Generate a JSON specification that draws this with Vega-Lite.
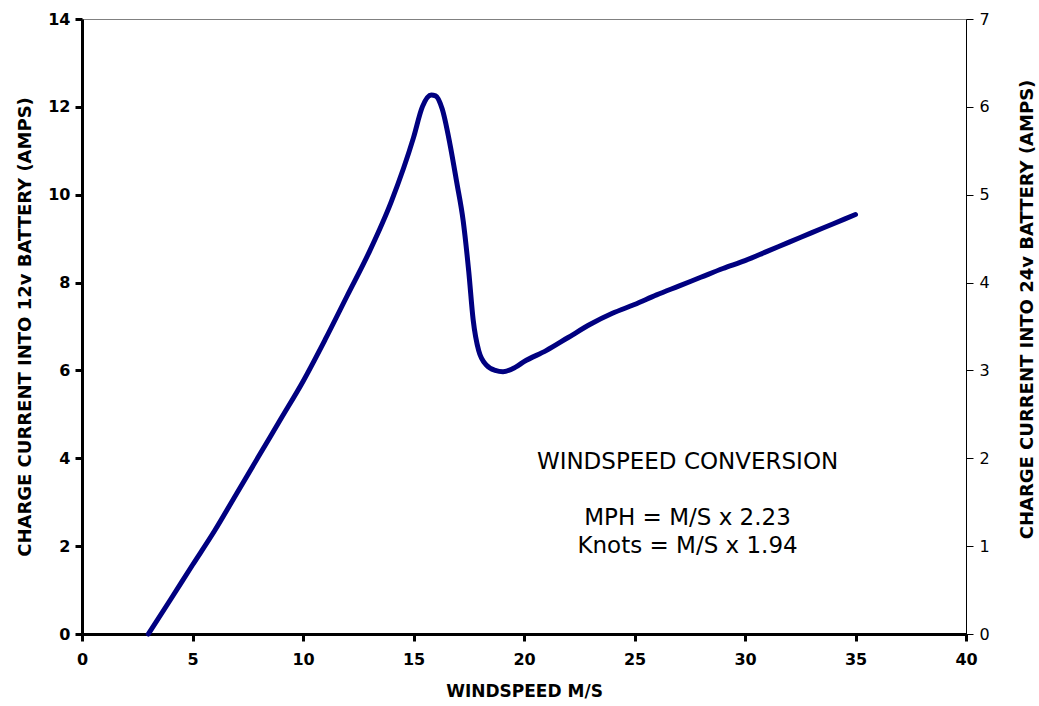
{
  "$schema": "https://vega.github.io/schema/vega-lite/v6.json",
  "width": 884,
  "height": 615,
  "autosize": {"type": "none"},
  "padding": {"left": 82, "top": 19, "right": 73, "bottom": 72},
  "background": "white",
  "config": {
    "view": {"stroke": "#808080", "strokeWidth": 1},
    "font": "DejaVu Sans"
  },
  "datasets": {
    "curve": [
      {"ms": 3, "amps": 0}, {"ms": 4, "amps": 0.78}, {"ms": 5, "amps": 1.57},
      {"ms": 6, "amps": 2.35}, {"ms": 7, "amps": 3.2}, {"ms": 8, "amps": 4.05},
      {"ms": 9, "amps": 4.9}, {"ms": 10, "amps": 5.75}, {"ms": 11, "amps": 6.7},
      {"ms": 12, "amps": 7.7}, {"ms": 13, "amps": 8.7}, {"ms": 14, "amps": 9.85},
      {"ms": 15, "amps": 11.3}, {"ms": 15.4, "amps": 12.0}, {"ms": 15.8, "amps": 12.27},
      {"ms": 16.0, "amps": 12.25}, {"ms": 16.3, "amps": 11.95}, {"ms": 16.65, "amps": 11.15},
      {"ms": 16.95, "amps": 10.3}, {"ms": 17.25, "amps": 9.4}, {"ms": 17.5, "amps": 8.25},
      {"ms": 17.7, "amps": 7.15}, {"ms": 17.95, "amps": 6.45}, {"ms": 18.3, "amps": 6.12},
      {"ms": 18.7, "amps": 6.0}, {"ms": 19.05, "amps": 5.97}, {"ms": 19.6, "amps": 6.07},
      {"ms": 20, "amps": 6.2}, {"ms": 21, "amps": 6.45}, {"ms": 22, "amps": 6.75},
      {"ms": 23, "amps": 7.05}, {"ms": 24, "amps": 7.3}, {"ms": 25, "amps": 7.5},
      {"ms": 26, "amps": 7.72}, {"ms": 27, "amps": 7.92}, {"ms": 28, "amps": 8.12},
      {"ms": 29, "amps": 8.32}, {"ms": 30, "amps": 8.5}, {"ms": 31, "amps": 8.71},
      {"ms": 32, "amps": 8.92}, {"ms": 33, "amps": 9.13}, {"ms": 34, "amps": 9.34},
      {"ms": 35, "amps": 9.55}
    ],
    "notes": [
      {"ms": 27.4, "amps": 3.92, "text": "WINDSPEED CONVERSION"},
      {"ms": 27.4, "amps": 2.64, "text": "MPH = M/S x 2.23"},
      {"ms": 27.4, "amps": 2.0, "text": "Knots = M/S x 1.94"}
    ],
    "right": [
      {"ms": 0, "amps24": 0}, {"ms": 0, "amps24": 7}
    ]
  },
  "layer": [
    {
      "layer": [
        {
          "data": {"name": "curve"},
          "mark": {"type": "line", "color": "#000080", "strokeWidth": 5, "interpolate": "monotone", "strokeCap": "round", "strokeJoin": "round"},
          "encoding": {
            "x": {
              "field": "ms", "type": "quantitative",
              "scale": {"domain": [0, 40], "nice": false},
              "axis": {
                "title": "WINDSPEED M/S", "values": [0,5,10,15,20,25,30,35,40],
                "grid": false, "domainColor": "black", "domainWidth": 3,
                "tickColor": "black", "tickWidth": 3, "tickSize": 7, "labelFlush": false,
                "labelFont": "DejaVu Sans", "labelFontWeight": "bold", "labelFontSize": 16, "labelColor": "black", "labelPadding": 10,
                "titleFont": "DejaVu Sans", "titleFontWeight": "bold", "titleFontSize": 17, "titleColor": "black", "titlePadding": 16
              }
            },
            "y": {
              "field": "amps", "type": "quantitative",
              "scale": {"domain": [0, 14], "nice": false},
              "axis": {
                "title": "CHARGE CURRENT INTO 12v BATTERY (AMPS)", "values": [0,2,4,6,8,10,12,14],
                "grid": false, "domainColor": "black", "domainWidth": 3,
                "tickColor": "black", "tickWidth": 3, "tickSize": 7, "labelFlush": false,
                "labelFont": "DejaVu Sans", "labelFontWeight": "bold", "labelFontSize": 16, "labelColor": "black", "labelPadding": 5,
                "titleFont": "DejaVu Sans", "titleFontWeight": "bold", "titleFontSize": 18, "titleColor": "black", "titlePadding": 13
              }
            }
          }
        },
        {
          "data": {"name": "notes"},
          "mark": {"type": "text", "font": "DejaVu Sans", "fontSize": 23, "color": "black", "align": "center", "baseline": "middle"},
          "encoding": {
            "x": {"field": "ms", "type": "quantitative"},
            "y": {"field": "amps", "type": "quantitative"},
            "text": {"field": "text", "type": "nominal"}
          }
        }
      ]
    },
    {
      "data": {"name": "right"},
      "mark": {"type": "point", "opacity": 0},
      "encoding": {
        "x": {"field": "ms", "type": "quantitative"},
        "y": {
          "field": "amps24", "type": "quantitative",
          "scale": {"domain": [0, 7], "nice": false},
          "axis": {
            "orient": "right", "title": "CHARGE CURRENT INTO 24v BATTERY (AMPS)", "values": [0,1,2,3,4,5,6,7],
            "grid": false, "domainColor": "black", "domainWidth": 1,
            "tickColor": "black", "tickWidth": 1, "tickSize": 7, "labelFlush": false,
            "labelFont": "DejaVu Sans", "labelFontSize": 16, "labelColor": "black", "labelPadding": 6,
            "titleAngle": 270, "titleBaseline": "middle", "titleAlign": "center", "titleX": 61, "titleY": 290,
            "titleFont": "DejaVu Sans", "titleFontWeight": "bold", "titleFontSize": 18, "titleColor": "black"
          }
        }
      }
    }
  ],
  "resolve": {"scale": {"y": "independent"}}
}
